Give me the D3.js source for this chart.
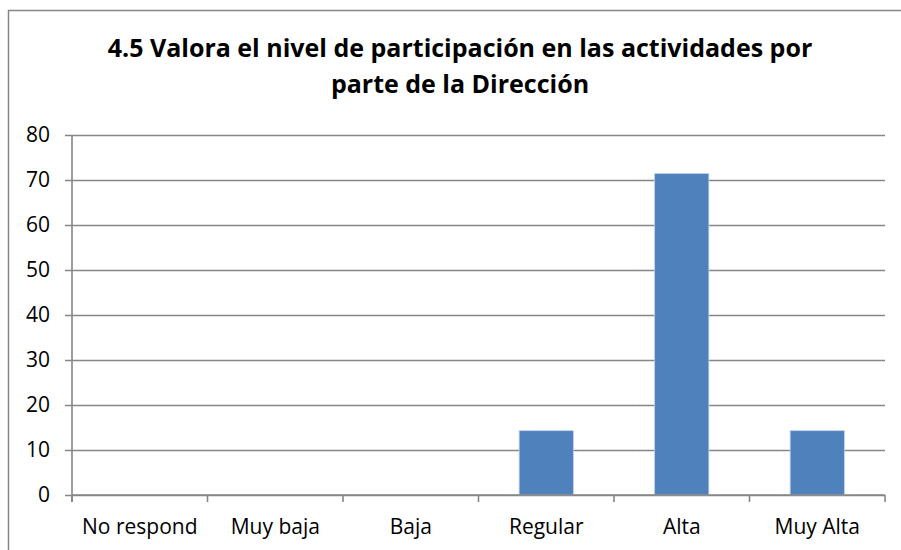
<!DOCTYPE html>
<html>
<head>
<meta charset="utf-8">
<script src="https://cdn.jsdelivr.net/npm/d3@7/dist/d3.min.js"></script>
<style>
  html, body { margin: 0; padding: 0; background: #fff; }
  svg { display: block; font-family: "Open Sans", sans-serif; }
</style>
</head>
<body>
<svg id="chart" width="901" height="550"></svg>
<script>
// Chart data
const categories = ["No respond", "Muy baja", "Baja", "Regular", "Alta", "Muy Alta"];
const values = [0, 0, 0, 14.29, 71.43, 14.29];
const yTicks = [0, 10, 20, 30, 40, 50, 60, 70, 80];
const titleLines = ["4.5 Valora el nivel de participación en las actividades por", "parte de la Dirección"];

const svg = d3.select("#chart");
const W = 901, H = 550;
const plot = { left: 72, right: 885, top: 135, bottom: 495 };
const gridColor = "#868686";
const fontFamily = "'Open Sans', sans-serif";

// Outer chart frame
svg.append("rect")
  .attr("x", 8.5).attr("y", 10.5)
  .attr("width", W).attr("height", H)
  .attr("fill", "#fff").attr("stroke", gridColor).attr("stroke-width", 1.5);

// Title
svg.append("g").selectAll("text")
  .data(titleLines).join("text")
  .attr("x", 460).attr("y", (d, i) => 57 + i * 36)
  .attr("text-anchor", "middle")
  .attr("font-weight", "bold").attr("font-size", 25)
  .attr("fill", "#000")
  .text(d => d);

const x = d3.scaleBand()
  .domain(categories)
  .range([plot.left, plot.right])
  .paddingInner(0.6).paddingOuter(0.3);

const y = d3.scaleLinear().domain([0, 80]).range([plot.bottom, plot.top]);

// Gridlines and y axis
const yAxis = d3.axisLeft(y).tickValues(yTicks).tickSize(-(plot.right - plot.left));
const gy = svg.append("g").attr("transform", `translate(${plot.left},0)`).call(yAxis);
gy.select(".domain").remove();
gy.selectAll(".tick line")
  .attr("x1", -7)
  .attr("stroke", gridColor).attr("stroke-width", 1.6);
gy.selectAll(".tick text")
  .attr("font-size", 21).attr("fill", "#000")
  .attr("font-family", fontFamily)
  .attr("x", -22).attr("dy", "0.33em");

// Vertical axis line
svg.append("line")
  .attr("x1", plot.left).attr("x2", plot.left)
  .attr("y1", plot.top).attr("y2", plot.bottom + 7)
  .attr("stroke", gridColor).attr("stroke-width", 1.6);

// Bars
svg.append("g").selectAll("rect")
  .data(values.map((v, i) => ({ c: categories[i], v })))
  .join("rect")
  .attr("x", d => x(d.c))
  .attr("y", d => y(d.v))
  .attr("width", x.bandwidth())
  .attr("height", d => y(0) - y(d.v))
  .attr("fill", "#4F81BD")
  .attr("stroke", "#bcd0ea").attr("stroke-width", 0.8);

// Category axis
const step = x.step();
const xAxis = d3.axisBottom(x).tickSize(0);
const gx = svg.append("g").attr("transform", `translate(0,${plot.bottom})`).call(xAxis);
gx.select(".domain").attr("d", `M${plot.left},0H${plot.right}`)
  .attr("stroke", gridColor).attr("stroke-width", 1.6);
gx.selectAll(".tick text")
  .attr("font-size", 21).attr("fill", "#000")
  .attr("font-family", fontFamily)
  .attr("y", 39).attr("dy", 0);

// Tick marks between categories
const boundaries = d3.range(categories.length + 1).map(i => plot.left + i * step);
gx.selectAll("line.sep")
  .data(boundaries).join("line")
  .attr("class", "sep")
  .attr("x1", d => d).attr("x2", d => d)
  .attr("y1", 0).attr("y2", 7)
  .attr("stroke", gridColor).attr("stroke-width", 1.6);
</script>
</body>
</html>
